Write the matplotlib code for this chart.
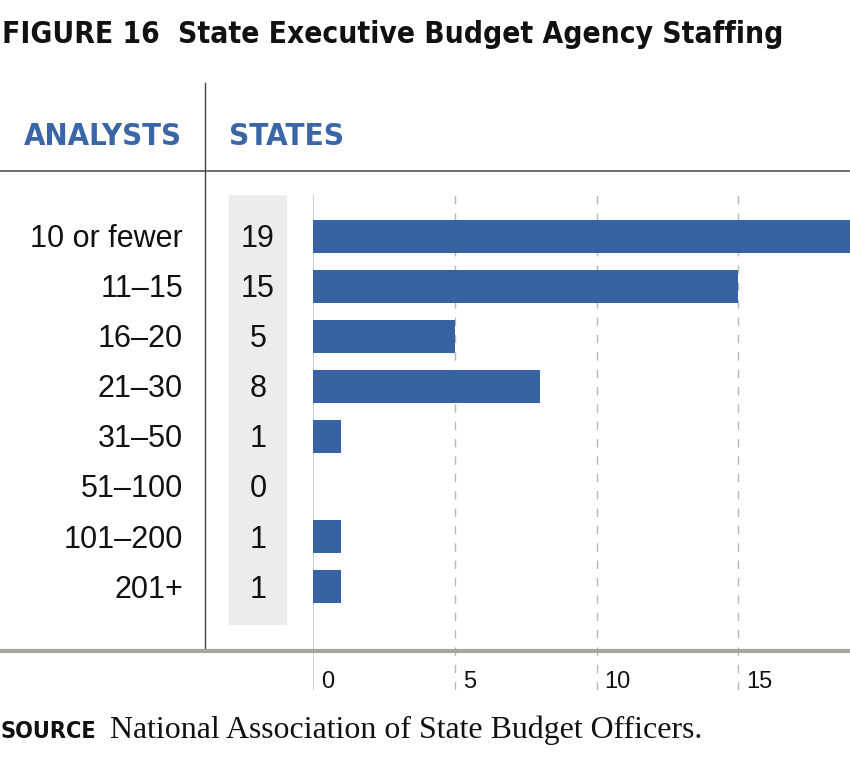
import matplotlib
matplotlib.use("Agg")
import matplotlib.pyplot as plt
from matplotlib import font_manager
from matplotlib.lines import Line2D
from matplotlib.patches import Rectangle
import matplotlib.transforms as mtransforms

# ---------------- data ----------------
categories = ["10 or fewer", "11\u201315", "16\u201320", "21\u201330", "31\u201350",
              "51\u2013100", "101\u2013200", "201+"]
states = [19, 15, 5, 8, 1, 0, 1, 1]
xticks = [0, 5, 10, 15]
xtick_labels = ["0", "5", "10", "15"]

title = "FIGURE 16  State Executive Budget Agency Staffing"
header_left = "ANALYSTS"
header_right = "STATES"
source_label = "SOURCE"
source_text = "National Association of State Budget Officers."

# ---------------- style ----------------
BLUE = "#3763a2"
HEAD_BLUE = "#3a66a7"
W, H, DPI = 850, 770, 100

# look for a condensed bold face
cond_file = None
for f in font_manager.fontManager.ttflist:
    fn = f.fname.lower()
    if ("narrow" in fn or "condensed" in fn) and "bold" in fn and "oblique" not in fn \
            and "italic" not in fn and "sans" in fn and "mono" not in fn:
        cond_file = f.fname
        break

def cond_props(size):
    if cond_file:
        return font_manager.FontProperties(fname=cond_file, size=size)
    return font_manager.FontProperties(family="DejaVu Sans", weight="bold", size=size)

SANS = "Liberation Sans"
SERIF = "Liberation Serif"

fig = plt.figure(figsize=(W / DPI, H / DPI), dpi=DPI)
renderer = fig.canvas.get_renderer()

def fx(px):
    return px / W

def fy(py):
    return 1 - py / H

def fit_text(x, y, s, target_w, size, fp=None, **kw):
    if fp is not None:
        t = fig.text(x, y, s, fontproperties=fp, **kw)
    else:
        t = fig.text(x, y, s, fontsize=size, **kw)
    w = t.get_window_extent(renderer).width
    if w > 0:
        t.set_fontsize(t.get_fontsize() * target_w / w)
    return t

# axes area for bars (pixels: x 313..850, y 195..690)
ax = fig.add_axes([fx(313), fy(690), fx(850) - fx(313), (690 - 195) / H])
ax.set_xlim(0, 537 / 28.35)
ax.set_ylim(len(categories) - 1 + 2.07, -0.83)
ax.axis("off")

ypos = list(range(len(categories)))
ax.barh(ypos, states, height=0.66, color=BLUE, zorder=3)

# gridlines
ax.axvline(0, color="#c9c9c2", lw=1.2, zorder=2)
for v in xticks[1:]:
    ax.axvline(v, color="#b8b8b0", lw=1.0, dashes=(6, 6.5), zorder=2)

# tick labels
tick_tr = ax.get_xaxis_transform() + mtransforms.ScaledTranslation(0.08, 0, fig.dpi_scale_trans)
for v, lab in zip(xticks, xtick_labels):
    ax.text(v, 0.004, lab, transform=tick_tr, ha="left", va="baseline",
            fontsize=17, family=SANS, color="#111111")

# grey column box for states
fig.add_artist(Rectangle((fx(229), fy(625)), fx(287) - fx(229), (625 - 195) / H,
                         transform=fig.transFigure, facecolor="#ebecee",
                         edgecolor="none", zorder=0))

# row labels & counts
row_tr = mtransforms.blended_transform_factory(fig.transFigure, ax.transData) + \
    mtransforms.ScaledTranslation(0, -0.11, fig.dpi_scale_trans)
for y, cat, n in zip(ypos, categories, states):
    fig.text(fx(183), y, cat, transform=row_tr, ha="right", va="baseline",
             fontsize=22, family=SANS, color="#111111")
    fig.text(fx(258), y, str(n), transform=row_tr, ha="center", va="baseline",
             fontsize=22, family=SANS, color="#111111")

# structural lines
fig.add_artist(Line2D([0, 1], [fy(170.5), fy(170.5)], transform=fig.transFigure,
                      color="#555555", lw=1.2))
fig.add_artist(Line2D([fx(205), fx(205)], [fy(83), fy(651)], transform=fig.transFigure,
                      color="#444444", lw=1.0))
fig.add_artist(Line2D([0, 1], [fy(651), fy(651)], transform=fig.transFigure,
                      color="#a6a69c", lw=3.0, zorder=5))

# title
fit_text(fx(2), fy(43), title, 781, 26, fp=cond_props(26),
         ha="left", va="baseline", color="#111111")

# headers
fit_text(fx(24), fy(145), header_left, 158, 24, fp=cond_props(24),
         ha="left", va="baseline", color=HEAD_BLUE)
fit_text(fx(229), fy(145), header_right, 115, 24, fp=cond_props(24),
         ha="left", va="baseline", color=HEAD_BLUE)

# source
fit_text(fx(1), fy(738), source_label, 96, 17, fp=cond_props(17),
         ha="left", va="baseline", color="#111111")
fit_text(fx(110), fy(738), source_text, 592, 17, family=SERIF,
         ha="left", va="baseline", color="#111111")

fig.savefig("out.png", dpi=DPI)
